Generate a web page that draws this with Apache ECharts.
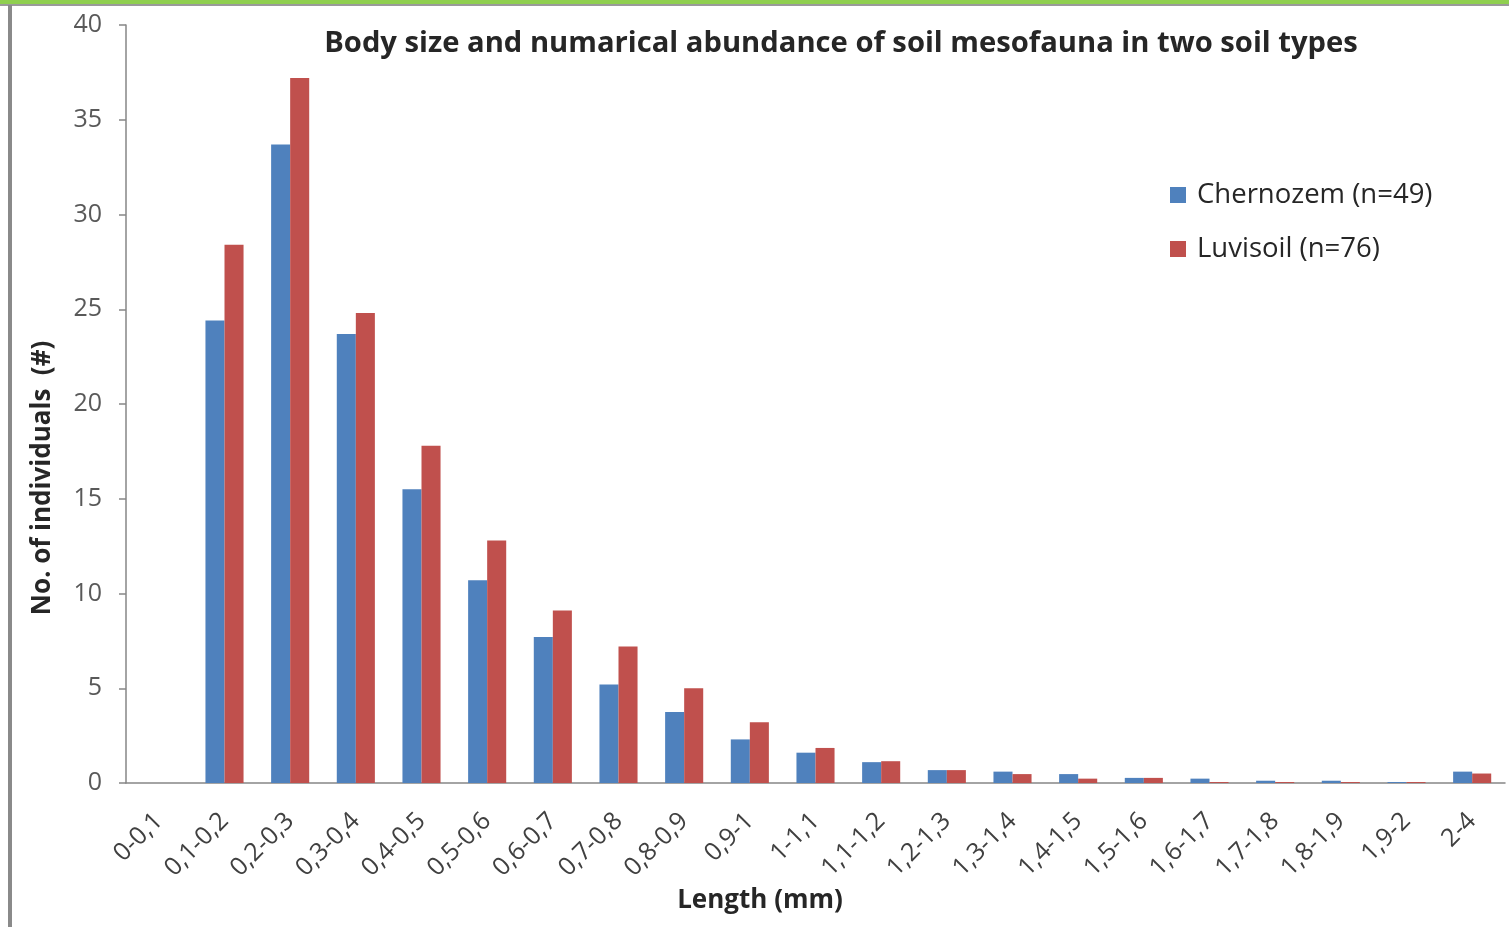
<!DOCTYPE html>
<html>
<head>
<meta charset="utf-8">
<style>
  html, body { margin: 0; padding: 0; background: #fff; }
  #frame { position: absolute; left: 0; top: 0; width: 1509px; height: 927px; background: #fff; }
  #topbar { position: absolute; left: 0; top: 0; width: 1509px; height: 4px; background: #8fcf4f; }
  #topline { position: absolute; left: 0; top: 4px; width: 1509px; height: 2px; background: #9a9a9a; }
  #leftline { position: absolute; left: 8px; top: 5px; width: 4px; height: 922px; background: #8a8a8a; }
  #chart { position: absolute; left: 0; top: 0; width: 1509px; height: 927px; }
</style>
<script src="https://cdn.jsdelivr.net/npm/echarts@6/dist/echarts.min.js"></script>
</head>
<body>
<div id="frame">
  <div id="chart"></div>
  <div id="topbar"></div>
  <div id="topline"></div>
  <div id="leftline"></div>
</div>
<script>
// Length classes (mm)
const categories = ['0-0,1', '0,1-0,2', '0,2-0,3', '0,3-0,4', '0,4-0,5', '0,5-0,6', '0,6-0,7',
  '0,7-0,8', '0,8-0,9', '0,9-1', '1-1,1', '1,1-1,2', '1,2-1,3', '1,3-1,4', '1,4-1,5',
  '1,5-1,6', '1,6-1,7', '1,7-1,8', '1,8-1,9', '1,9-2', '2-4'];

// Number of individuals per length class
const chernozem = [0, 24.4, 33.7, 23.7, 15.5, 10.7, 7.7, 5.2, 3.75, 2.3, 1.6, 1.1, 0.68,
  0.6, 0.47, 0.27, 0.23, 0.12, 0.12, 0.05, 0.6];
const luvisoil = [0, 28.4, 37.2, 24.8, 17.8, 12.8, 9.1, 7.2, 5.0, 3.2, 1.85, 1.15, 0.68,
  0.47, 0.23, 0.27, 0.05, 0.05, 0.05, 0.05, 0.5];

const seriesNames = ['Chernozem (n=49)', 'Luvisoil (n=76)'];
const titleText = 'Body size and numarical abundance of soil mesofauna in two soil types';
const yAxisName = 'No. of individuals  (#)';
const xAxisName = 'Length (mm)';

const FONT = 'Open Sans, Noto Sans, sans-serif';

const chart = echarts.init(document.getElementById('chart'), null, { renderer: 'canvas' });
chart.setOption({
  backgroundColor: 'transparent',
  animation: false,
  title: {
    text: titleText,
    left: 836,
    textAlign: 'center',
    top: 24,
    textStyle: { fontFamily: FONT, fontSize: 29.2, fontWeight: 'bold', color: '#262626' }
  },
  legend: {
    orient: 'vertical',
    left: 1165,
    top: 176,
    itemWidth: 16,
    itemHeight: 16,
    itemGap: 26,
    icon: 'rect',
    textStyle: { fontFamily: FONT, fontSize: 27.5, color: '#262626', padding: [0, 0, 0, 6] },
    data: seriesNames
  },
  grid: { left: 126, right: 4, top: 25, bottom: 144, containLabel: false },
  xAxis: {
    type: 'category',
    data: categories,
    axisLine: { lineStyle: { color: '#868686', width: 1.5 } },
    axisTick: { show: false },
    axisLabel: {
      rotate: 45,
      interval: 0,
      margin: 34,
      fontFamily: FONT,
      fontSize: 25,
      color: '#404040'
    }
  },
  yAxis: {
    type: 'value',
    min: 0,
    max: 40,
    interval: 5,
    axisLine: { show: true, lineStyle: { color: '#868686', width: 1.5 } },
    axisTick: { show: true, inside: false, length: 7, lineStyle: { color: '#868686', width: 1.5 } },
    splitLine: { show: false },
    axisLabel: { fontFamily: FONT, fontSize: 25, color: '#595959', margin: 24 }
  },
  graphic: [
    {
      // rotated y-axis title, placed beside the lower part of the axis
      type: 'text',
      x: 43,
      y: 478,
      rotation: Math.PI / 2,
      style: {
        text: yAxisName,
        fontFamily: FONT,
        fontSize: 26,
        fontWeight: 'bold',
        fill: '#262626',
        align: 'center',
        verticalAlign: 'middle'
      }
    },
    {
      type: 'text',
      x: 760,
      y: 901,
      style: {
        text: xAxisName,
        fontFamily: FONT,
        fontSize: 26,
        fontWeight: 'bold',
        fill: '#262626',
        align: 'center',
        verticalAlign: 'middle'
      }
    }
  ],
  series: [
    {
      name: seriesNames[0],
      type: 'bar',
      data: chernozem,
      barGap: '0%',
      barCategoryGap: '42%',
      itemStyle: { color: '#4f81bd' }
    },
    {
      name: seriesNames[1],
      type: 'bar',
      data: luvisoil,
      itemStyle: { color: '#c0504d' }
    }
  ]
});
</script>
</body>
</html>
